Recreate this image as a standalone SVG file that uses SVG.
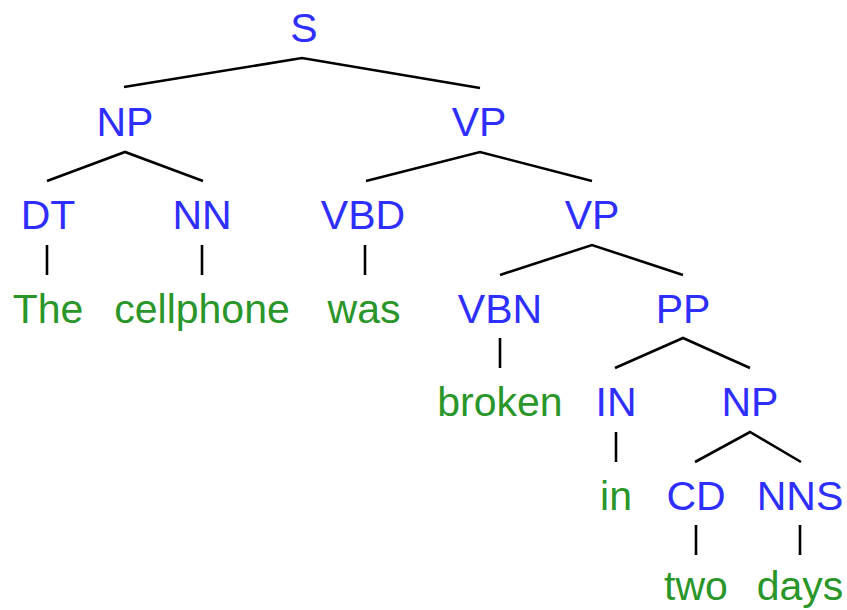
<svg xmlns="http://www.w3.org/2000/svg" width="847" height="610" viewBox="0 0 847 610">
<style>
.c{font-family:"Liberation Sans",Arial,sans-serif;font-size:41px;fill:#2e2eff;text-anchor:middle}
.w{font-family:"Liberation Sans",Arial,sans-serif;font-size:41px;fill:#2a962a;text-anchor:middle}
#edges line,#edges polyline{stroke:#000;stroke-width:2.6;fill:none}
</style>
<rect width="847" height="610" fill="#fff"/>
<g id="edges">
<polyline points="124,87 302,58 480,88"/>
<polyline points="47,181 125,152 203,181"/>
<polyline points="366,181 480,152 592,181"/>
<line x1="47" y1="245" x2="47" y2="275"/>
<line x1="202" y1="245" x2="202" y2="275"/>
<line x1="365" y1="245" x2="365" y2="275"/>
<polyline points="500,275 592,245 683,275"/>
<line x1="500" y1="338" x2="500" y2="368"/>
<polyline points="615,368 683,338 750,368"/>
<line x1="616" y1="432" x2="616" y2="462"/>
<polyline points="695,462 750,432 801,462"/>
<line x1="696" y1="525" x2="696" y2="555"/>
<line x1="800" y1="525" x2="800" y2="555"/>
</g>
<g id="n-S"><text class="c" x="304" y="42">S</text></g>
<g id="n-NP1"><text class="c" x="125" y="136">NP</text></g>
<g id="n-VP1"><text class="c" x="479" y="136">VP</text></g>
<g id="n-DT"><text class="c" x="48" y="229">DT</text></g>
<g id="n-NN"><text class="c" x="202" y="229">NN</text></g>
<g id="n-VBD"><text class="c" x="363" y="229">VBD</text></g>
<g id="n-VP2"><text class="c" x="592" y="229">VP</text></g>
<g id="w-The"><text class="w" x="48" y="323">The</text></g>
<g id="w-cellphone"><text class="w" x="202" y="323">cellphone</text></g>
<g id="w-was"><text class="w" x="364" y="323">was</text></g>
<g id="n-VBN"><text class="c" x="500" y="323">VBN</text></g>
<g id="n-PP"><text class="c" x="683" y="323">PP</text></g>
<g id="w-broken"><text class="w" x="500" y="416">broken</text></g>
<g id="n-IN"><text class="c" x="616" y="416">IN</text></g>
<g id="n-NP2"><text class="c" x="750" y="416">NP</text></g>
<g id="w-in"><text class="w" x="616" y="510">in</text></g>
<g id="n-CD"><text class="c" x="696" y="510">CD</text></g>
<g id="n-NNS"><text class="c" x="800" y="510">NNS</text></g>
<g id="w-two"><text class="w" x="696" y="600">two</text></g>
<g id="w-days"><text class="w" x="800" y="600">days</text></g>
</svg>
